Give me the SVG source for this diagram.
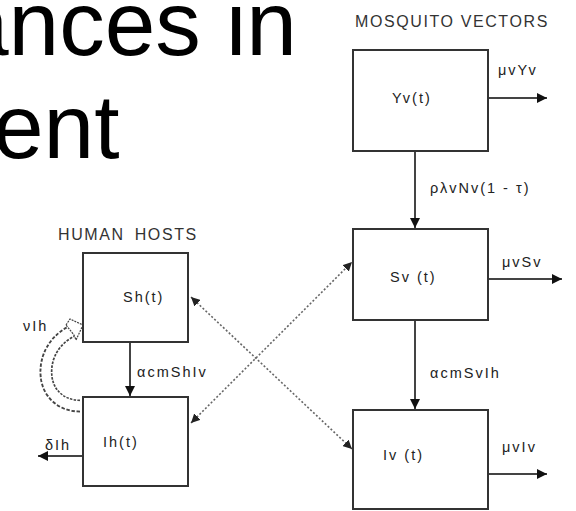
<svg xmlns="http://www.w3.org/2000/svg" width="576" height="511" viewBox="0 0 576 511">
<style>
.box{fill:#fff;stroke:#333;stroke-width:2}
.lbl{font-family:"Liberation Sans",Arial,sans-serif;font-size:14.5px;fill:#222;letter-spacing:2px}
.hd{font-family:"Liberation Sans",Arial,sans-serif;font-size:16px;fill:#333;letter-spacing:1.6px}
.ln{stroke:#444;stroke-width:2;fill:none}
.dot{stroke:#666;stroke-width:1.6;fill:none;stroke-dasharray:2 2}
.title{font-family:"Liberation Sans",Arial,sans-serif;font-size:91px;fill:#000}
</style>
<defs>
<marker id="ah" viewBox="0 0 10 10" refX="10" refY="5" markerWidth="10" markerHeight="10" markerUnits="userSpaceOnUse" orient="auto">
<path d="M0,0 L10,5 L0,10 z" fill="#111"/>
</marker>
<marker id="ahs" viewBox="0 0 10 10" refX="10" refY="5" markerWidth="9" markerHeight="9" markerUnits="userSpaceOnUse" orient="auto-start-reverse">
<path d="M0,0 L10,5 L0,10 z" fill="#222"/>
</marker>
</defs>
<rect width="576" height="511" fill="#fff"/>
<g id="title">
<text class="title" x="-42" y="55">ances in</text>
<text class="title" x="-7" y="158">ent</text>
</g>
<text class="hd" x="355" y="27">MOSQUITO VECTORS</text>
<text class="hd" x="58" y="240" word-spacing="4">HUMAN HOSTS</text>
<g id="connectors">
<line class="ln" x1="488" y1="98" x2="547" y2="98" marker-end="url(#ah)"/>
<line class="ln" x1="415" y1="151" x2="415" y2="228" marker-end="url(#ah)"/>
<line class="ln" x1="488" y1="279" x2="562" y2="279" marker-end="url(#ah)"/>
<line class="ln" x1="415" y1="320" x2="415" y2="409" marker-end="url(#ah)"/>
<line class="ln" x1="488" y1="474" x2="547" y2="474" marker-end="url(#ah)"/>
<line class="ln" x1="130" y1="342" x2="130" y2="396" marker-end="url(#ah)"/>
<line class="ln" x1="83" y1="456" x2="38" y2="456" marker-end="url(#ah)"/>
<line class="dot" x1="191" y1="297" x2="352" y2="449" marker-start="url(#ahs)" marker-end="url(#ahs)"/>
<line class="dot" x1="191" y1="423" x2="352" y2="262" marker-start="url(#ahs)" marker-end="url(#ahs)"/>
<g id="recovery">
<path d="M80,406 C60,406 46,392 46,372 C46,352 58,338 72,331" fill="none" stroke="#444" stroke-width="13" stroke-dasharray="3 1.5"/>
<path d="M81,406 C60,406 46,392 46,372 C46,352 58,338 72,331" fill="none" stroke="#fff" stroke-width="9.5"/>
<path d="M66,325 L70,319 L83,325 L76,340 L74,335 Z" fill="#fff" stroke="#444" stroke-width="1.2" stroke-dasharray="2 1"/>
</g>
</g>
<g id="Yv">
<rect class="box" x="353" y="50" width="135" height="101"/>
<text class="lbl" x="392" y="103" font-family="Liberation Serif">Yv(t)</text>
</g>
<text class="lbl" x="498" y="75">μvYv</text>
<text class="lbl" x="430" y="193">ρλvNv(1 - τ)</text>
<g id="Sv">
<rect class="box" x="353" y="229" width="135" height="91"/>
<text class="lbl" x="390" y="282">Sv (t)</text>
</g>
<text class="lbl" x="502" y="267">μvSv</text>
<text class="lbl" x="430" y="378">αcmSvIh</text>
<g id="Iv">
<rect class="box" x="353" y="410" width="135" height="99"/>
<text class="lbl" x="383" y="460">Iv (t)</text>
</g>
<text class="lbl" x="502" y="452">μvIv</text>
<g id="Sh">
<rect class="box" x="83" y="253" width="105" height="89"/>
<text class="lbl" x="123" y="302">Sh(t)</text>
</g>
<text class="lbl" x="137" y="377">αcmShIv</text>
<g id="Ih">
<rect class="box" x="83" y="397" width="105" height="89"/>
<text class="lbl" x="103" y="447" font-family="Liberation Serif">Ih(t)</text>
</g>
<text class="lbl" x="45" y="450">δIh</text>
<text class="lbl" x="23" y="331">νIh</text>
</svg>
